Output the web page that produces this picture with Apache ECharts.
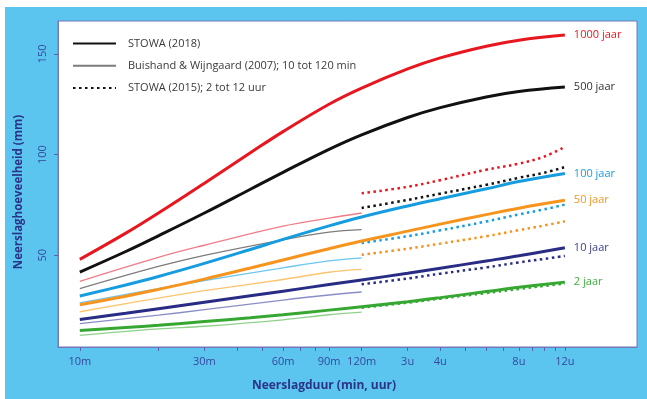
<!DOCTYPE html>
<html><head><meta charset="utf-8">
<script src="https://cdn.jsdelivr.net/npm/echarts@6/dist/echarts.min.js"></script>
<style>
html,body{margin:0;padding:0;background:#fff;width:647px;height:399px;overflow:hidden;}
#c{position:absolute;left:5px;top:7px;width:642px;height:392px;}
</style></head><body>
<div id="c"></div>
<script>
// ---- data (durations in minutes) ----
var durThick = [10, 15, 20, 30, 45, 60, 90, 120, 180, 240, 360, 480, 720];
var stowa2018_1000 = [48, 61, 71, 85.8, 100.9, 111.4, 125, 133, 142.5, 148, 153.8, 156.8, 159.3];
var stowa2018_500  = [41.7, 51.9, 59.7, 71, 82.8, 91.2, 102.6, 109.8, 118.4, 123.3, 128.6, 131.3, 133.5];
var stowa2018_100  = [29.8, 35.3, 39.5, 46, 52.9, 57.9, 64.6, 69, 74.5, 78.1, 83, 86.6, 90.6];
var stowa2018_50   = [25.5, 29.7, 33.1, 38.2, 43.7, 47.7, 53.3, 57.1, 62, 65.5, 70.2, 73.4, 77.3];
var stowa2018_10   = [18.2, 21.2, 23.5, 26.7, 29.9, 32.2, 35.5, 37.8, 41.1, 43.6, 47.2, 49.8, 53.8];
var stowa2018_2    = [12.7, 14.2, 15.3, 17.1, 19, 20.5, 22.8, 24.5, 27, 29, 32, 34.1, 36.7];

var durThin = [10, 20, 30, 60, 90, 120];
var bw2007_1000 = [37.1, 49, 55, 64.5, 68.5, 71];
var bw2007_500  = [33.5, 44.5, 50, 57.7, 61.5, 62.8];
var bw2007_100  = [26.4, 33.5, 37.5, 43.8, 47.2, 48.7];
var bw2007_50   = [22, 28.8, 32.5, 38, 41.6, 43];
var bw2007_10   = [16.1, 20.3, 23, 27.8, 30.3, 31.8];
var bw2007_2    = [10.3, 13.5, 14.8, 18, 20.5, 21.8];

var durDot = [120, 180, 240, 360, 480, 600, 720];
var stowa2015_1000 = [80.8, 84, 87.3, 92.5, 95.5, 99, 103.8];
var stowa2015_500  = [73.5, 77.5, 80.6, 85, 88.5, 91, 93.8];
var stowa2015_100  = [56.1, 59.5, 62.4, 66.8, 70.3, 72.8, 75.2];
var stowa2015_50   = [50.3, 53.3, 55.8, 59.5, 62.5, 64.8, 66.9];
var stowa2015_10   = [35.6, 38.5, 40.9, 44, 46.5, 48.2, 49.7];
var stowa2015_2    = [24, 26.5, 28.5, 31.3, 33.3, 34.8, 36];

var returnLabels = ['1000 jaar', '500 jaar', '100 jaar', '50 jaar', '10 jaar', '2 jaar'];
var legendNames = ['STOWA (2018)', 'Buishand & Wijngaard (2007); 10 tot 120 min', 'STOWA (2015); 2 tot 12 uur'];
var xTickValues = [10, 20, 30, 40, 50, 60, 70, 80, 90, 120, 180, 240, 300, 360, 420, 480, 540, 600, 660, 720];
var xLabelValues = [10, 30, 60, 90, 120, 180, 240, 480, 720];
var xLabelTexts  = ['10m', '30m', '60m', '90m', '120m', '3u', '4u', '8u', '12u'];
var yLabelValues = [50, 100, 150];

// ---- styles ----
var thickColors = ['#e8161e', '#111111', '#169de0', '#f7941d', '#282c84', '#36a832'];
var thinColors  = ['#f17c88', '#7d7d7d', '#6cc6ef', '#fcc46e', '#8b8dc6', '#8fd18b'];
var labelColors = ['#e8161e', '#333333', '#169de0', '#f7941d', '#3a3d8f', '#3fae3a'];
var FONT = 'Open Sans';
var HIDDEN = {color:'rgba(0,0,0,0)', borderColor:'rgba(0,0,0,0)', borderWidth:0};

function zip(xs, ys){ return xs.map(function(x,i){ return [x, ys[i]]; }); }

var thickData = [stowa2018_1000, stowa2018_500, stowa2018_100, stowa2018_50, stowa2018_10, stowa2018_2];
var thinData  = [bw2007_1000, bw2007_500, bw2007_100, bw2007_50, bw2007_10, bw2007_2];
var dotData   = [stowa2015_1000, stowa2015_500, stowa2015_100, stowa2015_50, stowa2015_10, stowa2015_2];

var series = [];
// legend-only series
series.push({name: legendNames[0], type:'line', data:[], symbol:'none', lineStyle:{color:'#111', width:3}, itemStyle:HIDDEN});
series.push({name: legendNames[1], type:'line', data:[], symbol:'none', lineStyle:{color:'#7d7d7d', width:1.3}, itemStyle:HIDDEN});
series.push({name: legendNames[2], type:'line', data:[], symbol:'none', lineStyle:{color:'#111', width:2.5, type:[2.5,3.5]}, itemStyle:HIDDEN});

for (var i = 0; i < 6; i++) {
  series.push({type:'line', data: zip(durThin, thinData[i]), symbol:'none', smooth:0.4, z:2,
    lineStyle:{color: thinColors[i], width:1.3}, silent:true});
}
for (var i = 0; i < 6; i++) {
  series.push({type:'line', data: zip(durDot, dotData[i]), symbol:'none', smooth:0.4, z:3,
    lineStyle:{color: thickColors[i], width:2.5, type:[2.5,3.5]}, silent:true});
}
for (var i = 0; i < 6; i++) {
  series.push({type:'line', data: zip(durThick, thickData[i]), symbol:'none', smooth:0.4, z:4,
    lineStyle:{color: thickColors[i], width:3}, silent:true,
    endLabel:{show:true, formatter: returnLabels[i], color: labelColors[i],
      fontFamily: FONT, fontSize: 11, distance: 9}});
}

var chart = echarts.init(document.getElementById('c'), null, {renderer:'canvas'});
chart.setOption({
  animation:false,
  backgroundColor:'#5bc5f0',
  legend:{
    data: legendNames, left: 62, top: 26, orient:'vertical', itemWidth: 43, itemHeight: 14, itemGap: 11,
    selectedMode:false,
    textStyle:{fontFamily: FONT, fontSize: 11, color:'#3a3a3a', padding:[0,0,0,7]}
  },
  grid:{left:47, right:10, top:14, bottom:52, show:true, backgroundColor:'#ffffff', borderColor:'#7377ba', borderWidth:1},
  xAxis:{
    type:'log', logBase:10, min: 8.25, max: 1360,
    name:'Neerslagduur (min, uur)', nameLocation:'middle', nameGap: 33,
    nameTextStyle:{fontFamily: FONT, fontSize: 12, fontWeight:'bold', color:'#2b3486', padding:[0,47,0,0]},
    axisLine:{show:true, lineStyle:{color:'#7377ba'}},
    axisTick:{show:true, customValues: xTickValues, length:4, lineStyle:{color:'#5d62b0'}},
    minorTick:{show:false},
    splitLine:{show:false},
    axisLabel:{customValues: xLabelValues, margin: 9, color:'#35489c', fontFamily: FONT, fontSize: 11,
      formatter:function(v){ var k = xLabelValues.indexOf(Math.round(v)); return k >= 0 ? xLabelTexts[k] : ''; }}
  },
  yAxis:{
    type:'value', min: 4.5, max: 166.3,
    name:'Neerslaghoeveelheid (mm)', nameLocation:'middle', nameGap: 33,
    nameTextStyle:{fontFamily: FONT, fontSize: 11.5, fontWeight:'bold', color:'#2b3486', padding:[0,16,0,0]},
    axisLine:{show:true, lineStyle:{color:'#7377ba'}},
    axisTick:{show:true, customValues: yLabelValues, length:4, lineStyle:{color:'#5d62b0'}},
    splitLine:{show:false},
    axisLabel:{customValues: yLabelValues, rotate: 90, margin: 10, color:'#35489c', fontFamily: FONT, fontSize: 11}
  },
  series: series
});
</script>
</body></html>
